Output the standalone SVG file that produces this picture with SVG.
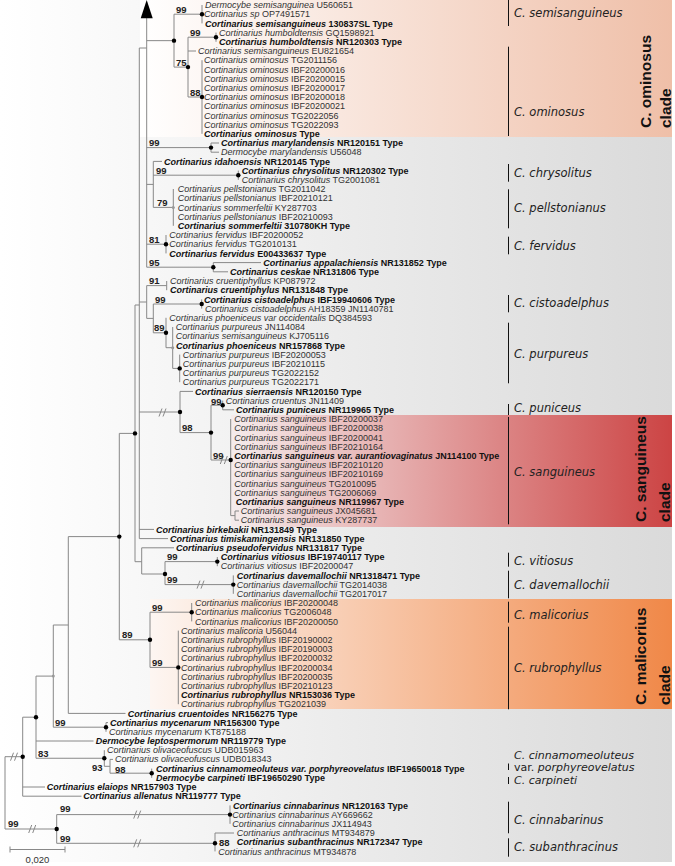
<svg xmlns="http://www.w3.org/2000/svg" width="675" height="866" viewBox="0 0 675 866">
<defs>
<linearGradient id="gBg" x1="0" y1="0" x2="672" y2="0" gradientUnits="userSpaceOnUse">
<stop offset="0" stop-color="#ffffff"/><stop offset="0.2" stop-color="#f8f8f8"/><stop offset="0.5" stop-color="#ececec"/><stop offset="1" stop-color="#dadada"/>
</linearGradient>
<linearGradient id="gOm" x1="140" y1="0" x2="672" y2="0" gradientUnits="userSpaceOnUse">
<stop offset="0" stop-color="#ffffff"/><stop offset="1" stop-color="#efbfa8"/>
</linearGradient>
<linearGradient id="gSa" x1="231" y1="0" x2="672" y2="0" gradientUnits="userSpaceOnUse">
<stop offset="0" stop-color="#f5ecec"/><stop offset="1" stop-color="#cc4444"/>
</linearGradient>
<linearGradient id="gMa" x1="150" y1="0" x2="672" y2="0" gradientUnits="userSpaceOnUse">
<stop offset="0" stop-color="#fdf6f2"/><stop offset="1" stop-color="#f08848"/>
</linearGradient>
</defs>
<style>
.t{font-family:"Liberation Sans",Arial,sans-serif;font-size:9px;fill:#333}
.b{font-weight:bold;fill:#111}
.i{font-style:italic}
.bs{font-family:"Liberation Sans",Arial,sans-serif;font-size:9.5px;font-weight:bold;fill:#222}
.lab{font-family:"DejaVu Sans",Verdana,sans-serif;font-size:11.5px;font-style:italic;fill:#222}
.sm{font-size:11px}
.up{font-style:normal}
.cl{font-family:"Liberation Sans",Arial,sans-serif;font-size:15.5px;font-weight:bold;fill:#111}
.e{stroke:#888;stroke-width:1;fill:none}
.bar{stroke:#111;stroke-width:1}
.d{fill:#000}
.dg{fill:#999}
</style>
<g id="background">
<rect x="0" y="0" width="672" height="862" fill="url(#gBg)"/>
<rect x="140" y="0" width="532" height="137" fill="url(#gOm)"/>
<rect x="231" y="415" width="441" height="112" fill="url(#gSa)"/>
<rect x="150" y="599" width="522" height="110" fill="url(#gMa)"/>
</g>
<g id="connectors" class="e">
<path d="M146.7 16V267.2M146.7 40.65H174M174 14.2V67.1M174 14.2H202M202 5V23.4M174 67.1H188M188 37.2V97M188 37.2H216M216 32.6V41.8M188 51H196M188 97H202M202 60.2V133.8"/>
<path d="M146.7 147.6H211M211 143V152.2M211 143H219M211 152.2H219M146.7 184.4H153.3M153.3 161.4V207.4M153.3 161.4H162M153.3 175.2H238.3M238.3 170.6V179.8M153.3 207.4H173.3M173.3 189V225.8M146.7 244.2H166M166 235V253.4M146.7 267.2H213.3M213.3 262.6V271.8M213.3 262.6H261M213.3 271.8H228"/>
<path d="M139.3 48H146.7M139.3 48V538.6M139.3 302H146.7M146.7 285.6V318.4M146.7 285.6H166.7M166.7 281V290.2M146.7 318.4H153.3M153.3 304V332.8M153.3 304H201.7M201.7 299.4V308.6M153.3 332.8H166M166 317.8V347.7M166 347.7H172.7M172.7 327V368.4M172.7 368.4H179.7M179.7 354.6V382.2"/>
<path d="M139.3 412H180M180 391.4V432.6M180 391.4H193M180 432.6H211M211 405.2V460M211 405.2H222.7M222.7 400.6V409.8M222.7 409.8H234M211 460H230.7M230.7 419V515.6M230.7 515.6H235M235 511V520.2M235 511H239M235 520.2H239M139.3 529.4H154M139.3 538.6H168"/>
<path d="M135 305H139.3M135 305V561.7M135 561.7H141.7M141.7 547.8V574M141.7 547.8H174M141.7 574H165M165 561.6V584.6M165 561.6H217.3M217.3 557V566.2M165 584.6H233.3M233.3 575.4V593.8"/>
<path d="M119.3 433.4H135M119.3 433.4V639.8M119.3 639.8H150M150 612.2V667.4M150 612.2H191.7M191.7 603V621.4M150 667.4H178.3M178.3 630.6V704.2M68.3 536.6H119.3M68.3 536.6V713.4M68.3 713.4H125.5"/>
<path d="M53.3 625H68.3M53.3 625V727.2M53.3 727.2H106M106 722.6V731.8M106 722.6H108M36 676.1H53.3M36 676.1V758.25M36 741H93.5M36 758.25H104.3M104.3 750.2V766.3M104.3 766.3H110M110 759.4V773.2M110 759.4H113M110 773.2H151.7M151.7 768.6V777.8"/>
<path d="M22.7 717.2H36M22.7 717.2V796.2M22.7 787H45M22.7 796.2H81.5M5 756.7H22.7M5 756.7V829M5 829H56.7M56.7 814.6V843.3M56.7 814.6H230M230 805.4V823.8M56.7 843.3H215M215 833V851.4M215 833H234"/>
<path d="M159 416.5L162 408.5M163 416.5L166 408.5M220.3 464L223.3 456M224.3 464L227.3 456M197 588.6L200 580.6M201 588.6L204 580.6M10.5 760.7L13.5 752.7M14.5 760.7L17.5 752.7M28.7 833L31.7 825M32.7 833L35.7 825M133.7 818.6L136.7 810.6M137.7 818.6L140.7 810.6M133.7 847.3L136.7 839.3M137.7 847.3L140.7 839.3"/>
<polygon points="146.7,0 140.7,18.3 152.7,18.3" fill="#000" stroke="none"/>
</g>
<g id="nodes-dots">
<circle class="d" cx="202" cy="14.2" r="2.2"/><circle class="d" cx="174" cy="40.65" r="2.2"/><circle class="d" cx="216" cy="37.2" r="2.2"/><circle class="d" cx="188" cy="67.1" r="2.2"/><circle class="d" cx="202" cy="97" r="2.2"/><circle class="d" cx="211" cy="147.6" r="2.2"/><circle class="d" cx="238.3" cy="175.2" r="2.2"/><circle class="d" cx="166" cy="244.2" r="2.2"/><circle class="d" cx="213.3" cy="267.2" r="2.2"/><circle class="d" cx="201.7" cy="304" r="2.2"/><circle class="d" cx="166" cy="332.8" r="2.2"/><circle class="d" cx="179.7" cy="368.4" r="2.2"/><circle class="d" cx="180" cy="412" r="2.2"/><circle class="d" cx="211" cy="432.6" r="2.2"/><circle class="d" cx="222.7" cy="405.2" r="2.2"/><circle class="d" cx="230.7" cy="460" r="2.2"/><circle class="d" cx="135" cy="433.4" r="2.2"/><circle class="d" cx="165" cy="574" r="2.2"/><circle class="d" cx="217.3" cy="561.6" r="2.2"/><circle class="d" cx="233.3" cy="584.6" r="2.2"/><circle class="d" cx="119.3" cy="536.6" r="2.2"/><circle class="d" cx="150" cy="639.8" r="2.2"/><circle class="d" cx="191.7" cy="612.2" r="2.2"/><circle class="d" cx="178.3" cy="667.4" r="2.2"/><circle class="d" cx="106" cy="727.2" r="2.2"/><circle class="d" cx="36" cy="717.2" r="2.2"/><circle class="d" cx="104.3" cy="758.25" r="2.2"/><circle class="d" cx="151.7" cy="773.2" r="2.2"/><circle class="d" cx="22.7" cy="756.7" r="2.2"/><circle class="d" cx="56.7" cy="829" r="2.2"/><circle class="d" cx="230" cy="814.6" r="2.2"/><circle class="d" cx="215" cy="843.3" r="2.2"/>
<circle class="dg" cx="173.3" cy="207.4" r="1.5"/><circle class="dg" cx="172.7" cy="347.7" r="1.5"/><circle class="dg" cx="53.3" cy="676.1" r="1.5"/>
</g>
<g id="bootstrap">
<text class="bs" x="176" y="12.7">99</text><text class="bs" x="190" y="35.5">99</text><text class="bs" x="176" y="65.5">75</text><text class="bs" x="190" y="95.5">88</text>
<text class="bs" x="149" y="146">99</text><text class="bs" x="156" y="173.5">99</text><text class="bs" x="157" y="206">79</text><text class="bs" x="149" y="242.5">81</text><text class="bs" x="149" y="265.5">95</text>
<text class="bs" x="149" y="284">91</text><text class="bs" x="155" y="302.5">99</text><text class="bs" x="154" y="331">89</text>
<text class="bs" x="182" y="431">98</text><text class="bs" x="211" y="404.5">99</text><text class="bs" x="213" y="458.5">99</text>
<text class="bs" x="167" y="560">99</text><text class="bs" x="167" y="583">99</text>
<text class="bs" x="122" y="638.3">89</text><text class="bs" x="152" y="610.5">99</text><text class="bs" x="152" y="666">99</text>
<text class="bs" x="55" y="725.5">99</text><text class="bs" x="38" y="756.5">83</text><text class="bs" x="92" y="770.5">93</text><text class="bs" x="115" y="772.5">98</text>
<text class="bs" x="8" y="826.5">99</text><text class="bs" x="60" y="812">99</text><text class="bs" x="60" y="841.5">99</text><text class="bs" x="219" y="845.5">88</text>
</g>
<g id="leaves">
<g id="n0"><text class="t" x="205" y="8.2"><tspan class="i">Dermocybe semisanguinea</tspan> U560651</text></g>
<g id="n1"><text class="t" x="204" y="17.4"><tspan class="i">Cortinarius sp</tspan> OP7491571</text></g>
<g id="n2"><text class="t b" x="205" y="26.6"><tspan class="i">Cortinarius semisanguineus</tspan> 130837SL Type</text></g>
<g id="n3"><text class="t" x="219" y="35.8"><tspan class="i">Cortinarius humboldtensis</tspan> GQ1598921</text></g>
<g id="n4"><text class="t b" x="219" y="45"><tspan class="i">Cortinarius humboldtensis</tspan> NR120303 Type</text></g>
<g id="n5"><text class="t" x="198" y="54.2"><tspan class="i">Cortinarius semisanguineus</tspan> EU821654</text></g>
<g id="n6"><text class="t" x="204" y="63.4"><tspan class="i">Cortinarius ominosus</tspan> TG2011156</text></g>
<g id="n7"><text class="t" x="204" y="72.6"><tspan class="i">Cortinarius ominosus</tspan> IBF20200016</text></g>
<g id="n8"><text class="t" x="204" y="81.8"><tspan class="i">Cortinarius ominosus</tspan> IBF20200015</text></g>
<g id="n9"><text class="t" x="204" y="91"><tspan class="i">Cortinarius ominosus</tspan> IBF20200017</text></g>
<g id="n10"><text class="t" x="204" y="100.2"><tspan class="i">Cortinarius ominosus</tspan> IBF20200018</text></g>
<g id="n11"><text class="t" x="204" y="109.4"><tspan class="i">Cortinarius ominosus</tspan> IBF20200021</text></g>
<g id="n12"><text class="t" x="204" y="118.6"><tspan class="i">Cortinarius ominosus</tspan> TG2022056</text></g>
<g id="n13"><text class="t" x="204" y="127.8"><tspan class="i">Cortinarius ominosus</tspan> TG2022093</text></g>
<g id="n14"><text class="t b" x="204" y="137"><tspan class="i">Cortinarius ominosus</tspan> Type</text></g>
<g id="n15"><text class="t b" x="221" y="146.2"><tspan class="i">Cortinarius marylandensis</tspan> NR120151 Type</text></g>
<g id="n16"><text class="t" x="221" y="155.4"><tspan class="i">Dermocybe marylandensis</tspan> U56048</text></g>
<g id="n17"><text class="t b" x="164" y="164.6"><tspan class="i">Cortinarius idahoensis</tspan> NR120145 Type</text></g>
<g id="n18"><text class="t b" x="241.7" y="173.8"><tspan class="i">Cortinarius chrysolitus</tspan> NR120302 Type</text></g>
<g id="n19"><text class="t" x="241.7" y="183"><tspan class="i">Cortinarius chrysolitus</tspan> TG2001081</text></g>
<g id="n20"><text class="t" x="177.7" y="192.2"><tspan class="i">Cortinarius pellstonianus</tspan> TG2011042</text></g>
<g id="n21"><text class="t" x="177.7" y="201.4"><tspan class="i">Cortinarius pellstonianus</tspan> IBF20210121</text></g>
<g id="n22"><text class="t" x="177.7" y="210.6"><tspan class="i">Cortinarius sommerfeltii</tspan> KY287703</text></g>
<g id="n23"><text class="t" x="177.7" y="219.8"><tspan class="i">Cortinarius pellstonianus</tspan> IBF20210093</text></g>
<g id="n24"><text class="t b" x="177.7" y="229"><tspan class="i">Cortinarius sommerfeltii</tspan> 310780KH Type</text></g>
<g id="n25"><text class="t" x="169.3" y="238.2"><tspan class="i">Cortinarius fervidus</tspan> IBF20200052</text></g>
<g id="n26"><text class="t" x="169.3" y="247.4"><tspan class="i">Cortinarius fervidus</tspan> TG2010131</text></g>
<g id="n27"><text class="t b" x="169.3" y="256.6"><tspan class="i">Cortinarius fervidus</tspan> E00433637 Type</text></g>
<g id="n28"><text class="t b" x="263.3" y="265.8"><tspan class="i">Cortinarius appalachiensis</tspan> NR131852 Type</text></g>
<g id="n29"><text class="t b" x="230" y="275"><tspan class="i">Cortinarius ceskae</tspan> NR131806 Type</text></g>
<g id="n30"><text class="t" x="170" y="284.2"><tspan class="i">Cortinarius cruentiphyllus</tspan> KP087972</text></g>
<g id="n31"><text class="t b" x="170" y="293.4"><tspan class="i">Cortinarius cruentiphylus</tspan> NR131848 Type</text></g>
<g id="n32"><text class="t b" x="204" y="302.6"><tspan class="i">Cortinarius cistoadelphus</tspan> IBF19940606 Type</text></g>
<g id="n33"><text class="t" x="205" y="311.8"><tspan class="i">Cortinarius cistoadelphus</tspan> AH18359 JN1140781</text></g>
<g id="n34"><text class="t" x="169.3" y="321"><tspan class="i">Cortinarius phoeniceus var occidentalis</tspan> DQ384593</text></g>
<g id="n35"><text class="t" x="175.7" y="330.2"><tspan class="i">Cortinarius purpureus</tspan> JN114084</text></g>
<g id="n36"><text class="t" x="175.7" y="339.4"><tspan class="i">Cortinarius semisanguineus</tspan> KJ705116</text></g>
<g id="n37"><text class="t b" x="176" y="348.6"><tspan class="i">Cortinarius phoeniceus</tspan> NR157868 Type</text></g>
<g id="n38"><text class="t" x="182.7" y="357.8"><tspan class="i">Cortinarius purpureus</tspan> IBF20200053</text></g>
<g id="n39"><text class="t" x="182.7" y="367"><tspan class="i">Cortinarius purpureus</tspan> IBF20210115</text></g>
<g id="n40"><text class="t" x="182.7" y="376.2"><tspan class="i">Cortinarius purpureus</tspan> TG2022152</text></g>
<g id="n41"><text class="t" x="182.7" y="385.4"><tspan class="i">Cortinarius purpureus</tspan> TG2022171</text></g>
<g id="n42"><text class="t b" x="195" y="394.6"><tspan class="i">Cortinarius sierraensis</tspan> NR120150 Type</text></g>
<g id="n43"><text class="t" x="225.7" y="403.8"><tspan class="i">Cortinarius cruentus</tspan> JN11409</text></g>
<g id="n44"><text class="t b" x="236" y="413"><tspan class="i">Cortinarius puniceus</tspan> NR119965 Type</text></g>
<g id="n45"><text class="t" x="234.3" y="422.2"><tspan class="i">Cortinarius sanguineus</tspan> IBF20200037</text></g>
<g id="n46"><text class="t" x="234.3" y="431.4"><tspan class="i">Cortinarius sanguineus</tspan> IBF20200038</text></g>
<g id="n47"><text class="t" x="234.3" y="440.6"><tspan class="i">Cortinarius sanguineus</tspan> IBF20200041</text></g>
<g id="n48"><text class="t" x="234.3" y="449.8"><tspan class="i">Cortinarius sanguineus</tspan> IBF20210164</text></g>
<g id="n49"><text class="t b" x="234.3" y="459"><tspan class="i">Cortinarius sanguineus var. aurantiovaginatus</tspan> JN114100 Type</text></g>
<g id="n50"><text class="t" x="234.3" y="468.2"><tspan class="i">Cortinarius sanguineus</tspan> IBF20210120</text></g>
<g id="n51"><text class="t" x="234.3" y="477.4"><tspan class="i">Cortinarius sanguineus</tspan> IBF20210169</text></g>
<g id="n52"><text class="t" x="234.3" y="486.6"><tspan class="i">Cortinarius sanguineus</tspan> TG2010095</text></g>
<g id="n53"><text class="t" x="234.3" y="495.8"><tspan class="i">Cortinarius sanguineus</tspan> TG2006069</text></g>
<g id="n54"><text class="t b" x="235.7" y="505"><tspan class="i">Cortinarius sanguineus</tspan> NR119967 Type</text></g>
<g id="n55"><text class="t" x="240.7" y="514.2"><tspan class="i">Cortinarius sanguineus</tspan> JX045681</text></g>
<g id="n56"><text class="t" x="240.7" y="523.4"><tspan class="i">Cortinarius sanguineus</tspan> KY287737</text></g>
<g id="n57"><text class="t b" x="156" y="532.6"><tspan class="i">Cortinarius birkebakii</tspan> NR131849 Type</text></g>
<g id="n58"><text class="t b" x="170" y="541.8"><tspan class="i">Cortinarius timiskamingensis</tspan> NR131850 Type</text></g>
<g id="n59"><text class="t b" x="176" y="551"><tspan class="i">Cortinarius pseudofervidus</tspan> NR131817 Type</text></g>
<g id="n60"><text class="t b" x="220.7" y="560.2"><tspan class="i">Cortinarius vitiosus</tspan> IBF19740117 Type</text></g>
<g id="n61"><text class="t" x="220.7" y="569.4"><tspan class="i">Cortinarius vitiosus</tspan> IBF20200047</text></g>
<g id="n62"><text class="t b" x="236.7" y="578.6"><tspan class="i">Cortinarius davemallochii</tspan> NR1318471 Type</text></g>
<g id="n63"><text class="t" x="236.7" y="587.8"><tspan class="i">Cortinarius davemallochii</tspan> TG2014038</text></g>
<g id="n64"><text class="t" x="236.7" y="597"><tspan class="i">Cortinarius davemallochii</tspan> TG2017017</text></g>
<g id="n65"><text class="t" x="195" y="606.2"><tspan class="i">Cortinarius malicorius</tspan> IBF20200048</text></g>
<g id="n66"><text class="t" x="195" y="615.4"><tspan class="i">Cortinarius malicorius</tspan> TG2006048</text></g>
<g id="n67"><text class="t" x="195" y="624.6"><tspan class="i">Cortinarius malicorius</tspan> IBF20200050</text></g>
<g id="n68"><text class="t" x="181" y="633.8"><tspan class="i">Cortinarius malicoria</tspan> U56044</text></g>
<g id="n69"><text class="t" x="181" y="643"><tspan class="i">Cortinarius rubrophyllus</tspan> IBF20190002</text></g>
<g id="n70"><text class="t" x="181" y="652.2"><tspan class="i">Cortinarius rubrophyllus</tspan> IBF20190003</text></g>
<g id="n71"><text class="t" x="181" y="661.4"><tspan class="i">Cortinarius rubrophyllus</tspan> IBF20200032</text></g>
<g id="n72"><text class="t" x="181" y="670.6"><tspan class="i">Cortinarius rubrophyllus</tspan> IBF20200034</text></g>
<g id="n73"><text class="t" x="181" y="679.8"><tspan class="i">Cortinarius rubrophyllus</tspan> IBF20200035</text></g>
<g id="n74"><text class="t" x="181" y="689"><tspan class="i">Cortinarius rubrophyllus</tspan> IBF20210123</text></g>
<g id="n75"><text class="t b" x="181" y="698.2"><tspan class="i">Cortinarius rubrophyllus</tspan> NR153036 Type</text></g>
<g id="n76"><text class="t" x="181" y="707.4"><tspan class="i">Cortinarius rubrophyllus</tspan> TG2021039</text></g>
<g id="n77"><text class="t b" x="127.7" y="716.6"><tspan class="i">Cortinarius cruentoides</tspan> NR156275 Type</text></g>
<g id="n78"><text class="t b" x="110" y="725.8"><tspan class="i">Cortinarius mycenarum</tspan> NR156300 Type</text></g>
<g id="n79"><text class="t" x="109" y="735"><tspan class="i">Cortinarius mycenarum</tspan> KT875188</text></g>
<g id="n80"><text class="t b" x="95.7" y="744.2"><tspan class="i">Dermocybe leptospermorum</tspan> NR119779 Type</text></g>
<g id="n81"><text class="t" x="107" y="753.4"><tspan class="i">Cortinarius olivaceofuscus</tspan> UDB015963</text></g>
<g id="n82"><text class="t" x="115" y="762.3"><tspan class="i">Cortinarius olivaceofuscus</tspan> UDB018343</text></g>
<g id="n83"><text class="t b" x="156" y="771.8"><tspan class="i">Cortinarius cinnamomeoluteus var. porphyreovelatus</tspan> IBF19650018 Type</text></g>
<g id="n84"><text class="t b" x="156" y="781"><tspan class="i">Dermocybe carpineti</tspan> IBF19650290 Type</text></g>
<g id="n85"><text class="t b" x="46.7" y="790.2"><tspan class="i">Cortinarius elaiops</tspan> NR157903 Type</text></g>
<g id="n86"><text class="t b" x="83.3" y="799.4"><tspan class="i">Cortinarius allenatus</tspan> NR119777 Type</text></g>
<g id="n87"><text class="t b" x="233" y="808.6"><tspan class="i">Cortinarius cinnabarinus</tspan> NR120163 Type</text></g>
<g id="n88"><text class="t" x="232.3" y="817.8"><tspan class="i">Cortinarius cinnabarinus</tspan> AY669662</text></g>
<g id="n89"><text class="t" x="232.3" y="827"><tspan class="i">Cortinarius cinnabarinus</tspan> JX114943</text></g>
<g id="n90"><text class="t" x="236.7" y="836.2"><tspan class="i">Cortinarius anthracinus</tspan> MT934879</text></g>
<g id="n91"><text class="t b" x="236.7" y="845.4"><tspan class="i">Cortinarius subanthracinus</tspan> NR172347 Type</text></g>
<g id="n92"><text class="t" x="218.3" y="854.6"><tspan class="i">Cortinarius anthracinus</tspan> MT934878</text></g>
</g>
<g id="species-labels">
<path class="bar" d="M508.5 0V26M508.5 46.7V136M508.5 164V181.7M508.5 189.3V228.3M508.5 236.7V254.3M508.5 295V312.3M508.5 322.7V383.3M508.5 404V415M508.5 417V524.3M508.5 552.7V566.7M508.5 570.7V598.3M508.5 601.7V622.7M508.5 626.7V709.3M508.5 763.5V770M508.5 777V784M508.5 801.7V833.3M508.5 838.3V856.7"/>
<text class="lab" x="514" y="16.7">C. semisanguineus</text>
<text class="lab" x="514" y="115.7">C. ominosus</text>
<text class="lab" x="514" y="177.3">C. chrysolitus</text>
<text class="lab" x="514" y="211.7">C. pellstonianus</text>
<text class="lab" x="514" y="250">C. fervidus</text>
<text class="lab" x="514" y="307.3">C. cistoadelphus</text>
<text class="lab" x="514" y="358">C. purpureus</text>
<text class="lab" x="514" y="412.3">C. puniceus</text>
<text class="lab" x="514" y="476.3">C. sanguineus</text>
<text class="lab" x="514" y="565">C. vitiosus</text>
<text class="lab" x="514" y="589.3">C. davemallochii</text>
<text class="lab" x="514" y="619">C. malicorius</text>
<text class="lab" x="514" y="672.3">C. rubrophyllus</text>
<text class="lab sm" x="514" y="758.5">C. cinnamomeoluteus</text>
<text class="lab sm" x="514" y="770.7"><tspan class="up">var.</tspan> porphyreovelatus</text>
<text class="lab sm" x="514" y="784">C. carpineti</text>
<text class="lab" x="514" y="824">C. cinnabarinus</text>
<text class="lab" x="514" y="851.3">C. subanthracinus</text>
</g>
<g id="clade-labels">
<text class="cl" transform="translate(650.5,128) rotate(-90)">C. ominosus</text>
<text class="cl" transform="translate(670.5,128) rotate(-90)">clade</text>
<text class="cl" transform="translate(646,522) rotate(-90)">C. sanguineus</text>
<text class="cl" transform="translate(670,522) rotate(-90)">clade</text>
<text class="cl" transform="translate(646,705) rotate(-90)">C. malicorius</text>
<text class="cl" transform="translate(670,705) rotate(-90)">clade</text>
</g>
<g id="scale-bar">
<path class="e" d="M10 849.5H65M10 846.5V852.5M65 846.5V852.5"/>
<text class="t" x="37.5" y="863" text-anchor="middle" style="font-size:9.5px">0,020</text>
</g>
</svg>
